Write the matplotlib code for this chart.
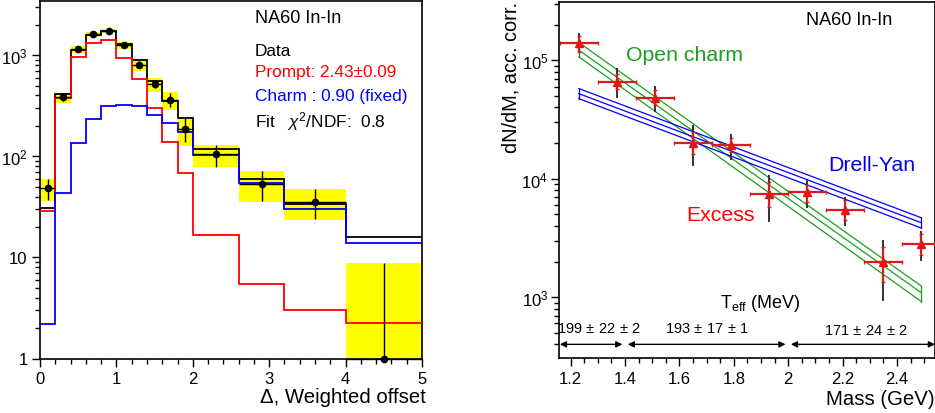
import numpy as np
import matplotlib
matplotlib.use("Agg")
import matplotlib.pyplot as plt
from matplotlib.ticker import FixedLocator, FixedFormatter, NullFormatter

plt.rcParams['font.family'] = ['Liberation Sans', 'DejaVu Sans']
plt.rcParams['mathtext.fontset'] = 'custom'
plt.rcParams['mathtext.rm'] = 'Liberation Sans'
plt.rcParams['mathtext.it'] = 'Liberation Sans:italic'

# ---------------- Left panel data ----------------
edges = [0, 0.2, 0.4, 0.6, 0.8, 1.0, 1.2, 1.4, 1.6, 1.8, 2.0, 2.6, 3.2, 4.0, 5.0]
data_y = [48.3, 387, 1155, 1613, 1727, 1265, 802, 524, 362, 188, 105, 53, 35, 1.0]
stat_lo = [37, 350, 1090, 1560, 1680, 1190, 740, 470, 310, 140, 79, 36, 24, 1.0]
stat_hi = [60, 420, 1200, 1680, 1790, 1330, 870, 575, 420, 245, 130, 71, 47, 8.8]
sys_lo = [36.5, 335, 1063, 1530, 1651, 1146, 700, 437, 286, 127, 78.5, 35.4, 23.5, 1.0]
sys_hi = [59.4, 420, 1237, 1701, 1836, 1355, 913, 601, 428, 247, 130, 71.3, 47.3, 8.8]
total_fit = [31, 418, 1121, 1578, 1741, 1304, 893, 557, 353, 242, 119, 59, 33.6, 16]
prompt = [28.5, 379, 963, 1334, 1419, 948, 579, 303, 140, 69, 16.7, 5.5, 3.05, 2.23]
charm = [2.2, 43, 136, 233, 315, 323, 315, 257, 216, 175, 103, 54, 30, 13.8]

left_yticks = [1, 10, 100, 1000]
left_yticklabels = ['1', '10', r'$10^{2}$', r'$10^{3}$']
left_xticks = [0, 1, 2, 3, 4, 5]
left_xticklabels = ['0', '1', '2', '3', '4', '5']

# ---------------- Right panel data ----------------
mass = [1.23, 1.37, 1.51, 1.65, 1.79, 1.93, 2.07, 2.21, 2.35, 2.49]
mass_halfwidth = [0.07] * 10
excess = [1.40e5, 6.56e4, 4.84e4, 2.02e4, 1.91e4, 7.47e3, 7.71e3, 5.40e3, 1.98e3, 2.83e3]
tot_lo = [1.14e5, 4.84e4, 3.66e4, 1.28e4, 1.43e4, 4.30e3, 5.65e3, 3.98e3, 937, 2040]
tot_hi = [1.70e5, 8.61e4, 6.02e4, 2.82e4, 2.40e4, 1.08e4, 9.80e3, 7.00e3, 3010, 3590]
st_lo = [1.176e5, 5.69e4, 4.17e4, 1.63e4, 1.68e4, 5760, 6350, 4445, 1339, 2250]
st_hi = [1.595e5, 7.72e4, 5.58e4, 2.48e4, 2.21e4, 9370, 8785, 6560, 2645, 3430]

band_x = [1.23, 2.49]
charm_mid = [1.215e5, 1089]
charm_up = [1.41e5, 1239]
charm_dn = [1.067e5, 918]
dy_mid = [5.223e4, 4246]
dy_up = [5.765e4, 4677]
dy_dn = [4.742e4, 3829]

arrow_start = [1.16, 1.41, 2.01]
arrow_end = [1.39, 1.99, 2.54]
arrow_y = 400
teff_labels = [r'199$\,\pm\,$22$\,\pm\,$2', r'193$\,\pm\,$17$\,\pm\,$1', r'171$\,\pm\,$24$\,\pm\,$2']
teff_label_x = [1.305, 1.70, 2.285]

right_yticks = [1e3, 1e4, 1e5]
right_yticklabels = [r'$10^{3}$', r'$10^{4}$', r'$10^{5}$']
right_xticks = [1.2, 1.4, 1.6, 1.8, 2.0, 2.2, 2.4]
right_xticklabels = ['1.2', '1.4', '1.6', '1.8', '2', '2.2', '2.4']

W, H = 935, 414
fig = plt.figure(figsize=(W / 100, H / 100), dpi=100)

def frac(x0, y0, x1, y1):
    return [x0 / W, 1 - y1 / H, (x1 - x0) / W, (y1 - y0) / H]

axL = fig.add_axes(frac(40, 2, 422, 359.5))
axR = fig.add_axes(frac(559.3, 3, 935, 359.3))

tick_fs = 12
for ax in (axL, axR):
    for s in ax.spines.values():
        s.set_linewidth(1.2)
    ax.tick_params(which='both', direction='out', top=False, right=False,
                   labelsize=tick_fs, width=1.0)
    ax.tick_params(which='major', length=6, pad=3)
    ax.tick_params(which='minor', length=3.5)
axR.tick_params(axis='y', which='major', pad=2)

# ---- Left panel ----
e = np.array(edges)
centers = 0.5 * (e[:-1] + e[1:])
widths = e[1:] - e[:-1]
axL.set_yscale('log')
axL.bar(centers, np.array(sys_hi) - np.array(sys_lo), bottom=sys_lo, width=widths,
        color='#ffff00', edgecolor='none', zorder=1)
axL.stairs(total_fit, edges, color='black', lw=1.3, baseline=None, zorder=3)
axL.stairs(prompt, edges, color='#ff0000', lw=1.3, baseline=None, zorder=3)
axL.stairs(charm, edges, color='#0000ff', lw=1.3, baseline=None, zorder=3)
yd = np.array(data_y)
axL.errorbar(centers, yd, yerr=[yd - np.array(stat_lo), np.array(stat_hi) - yd],
             xerr=widths / 2, fmt='o', color='black', ms=4.5, lw=1.0,
             capsize=0, zorder=4, clip_on=False)
axL.set_xlim(0, 5)
axL.set_ylim(1, 3440)
axL.yaxis.set_major_locator(FixedLocator(left_yticks))
axL.yaxis.set_major_formatter(FixedFormatter(left_yticklabels))
axL.yaxis.set_minor_locator(FixedLocator([m * 10 ** d for d in range(0, 4) for m in range(2, 10)]))
axL.yaxis.set_minor_formatter(NullFormatter())
axL.xaxis.set_major_locator(FixedLocator(left_xticks))
axL.xaxis.set_major_formatter(FixedFormatter(left_xticklabels))
axL.xaxis.set_minor_locator(FixedLocator(np.arange(0, 5.01, 0.2)))

fig.text(255 / W, 1 - 18.3 / H, 'NA60 In-In', fontsize=13, va='center', ha='left')
fig.text(255 / W, 1 - 51.7 / H, 'Data', fontsize=12.4, va='center', ha='left')
fig.text(255 / W, 1 - 72.7 / H, 'Prompt: 2.43±0.09', fontsize=12.4, va='center', ha='left', color='#ff0000')
fig.text(255 / W, 1 - 96 / H, 'Charm : 0.90 (fixed)', fontsize=12.4, va='center', ha='left', color='#0000ff')
fig.text(255 / W, 1 - 121.7 / H, r'Fit   $\chi^{2}$/NDF:  0.8', fontsize=12.4, va='center', ha='left')
fig.text(426 / W, 1 - 398 / H, 'Δ, Weighted offset', fontsize=14.7, va='center', ha='right')

# ---- Right panel ----
axR.set_yscale('log')
gcol = '#1a9f1a'
bcol = '#0000ff'
for up, mid, dn, col in ((charm_up, charm_mid, charm_dn, gcol), (dy_up, dy_mid, dy_dn, bcol)):
    axR.plot(band_x, up, color=col, lw=0.9, zorder=2)
    axR.plot(band_x, mid, color=col, lw=0.9, zorder=2)
    axR.plot(band_x, dn, color=col, lw=0.9, zorder=2)
    axR.plot([band_x[0], band_x[0]], [dn[0], up[0]], color=col, lw=0.9, zorder=2)
    axR.plot([band_x[1], band_x[1]], [dn[1], up[1]], color=col, lw=0.9, zorder=2)

ex = np.array(excess)
axR.errorbar(mass, ex, yerr=[ex - np.array(tot_lo), np.array(tot_hi) - ex], fmt='none',
             ecolor='#333333', lw=1.4, capsize=0, zorder=3)
axR.errorbar(mass, ex, yerr=[ex - np.array(st_lo), np.array(st_hi) - ex], xerr=mass_halfwidth,
             fmt='^', color='#ee1111', ecolor='#d81c1c', ms=6, lw=1.6, capsize=1.5,
             capthick=1.0, zorder=4, clip_on=False)

for a, b in zip(arrow_start, arrow_end):
    axR.annotate('', xy=(b, arrow_y), xytext=(a, arrow_y),
                 arrowprops=dict(arrowstyle='<|-|>', color='black', lw=1.0,
                                 mutation_scale=9, shrinkA=0, shrinkB=0),
                 annotation_clip=False)
axR.set_xlim(1.158, 2.54)
axR.set_ylim(305, 3.1e5)
axR.yaxis.set_major_locator(FixedLocator(right_yticks))
axR.yaxis.set_major_formatter(FixedFormatter(right_yticklabels))
axR.yaxis.set_minor_locator(FixedLocator([m * 10 ** d for d in range(2, 6) for m in range(2, 10)]))
axR.yaxis.set_minor_formatter(NullFormatter())
axR.xaxis.set_major_locator(FixedLocator(right_xticks))
axR.xaxis.set_major_formatter(FixedFormatter(right_xticklabels))
axR.xaxis.set_minor_locator(FixedLocator(np.arange(1.15, 2.56, 0.05)))

teff_y_px = [329.3, 329.3, 331]
for xl, lab, yy in zip(teff_label_x, teff_labels, teff_y_px):
    px = 559.3 + (xl - 1.158) / (2.54 - 1.158) * (935 - 559.3)
    fig.text(px / W, 1 - yy / H, lab, fontsize=10.5, ha='center', va='center')

fig.text(806 / W, 1 - 20.7 / H, 'NA60 In-In', fontsize=13, va='center', ha='left')
fig.text(626 / W, 1 - 56 / H, 'Open charm', fontsize=15.3, va='center', ha='left', color=gcol)
fig.text(828 / W, 1 - 165.7 / H, 'Drell-Yan', fontsize=15.3, va='center', ha='left', color=bcol)
fig.text(686.7 / W, 1 - 215.7 / H, 'Excess', fontsize=15.3, va='center', ha='left', color='#ff0000')
fig.text(720 / W, 1 - 303 / H, r'T$_{\mathrm{eff}}$ (MeV)', fontsize=13, va='center', ha='left')
fig.text(511 / W, 1 - 2 / H, 'dN/dM, acc. corr.', fontsize=14.4, rotation=90, va='top', ha='center')
fig.text(935 / W, 1 - 400 / H, 'Mass (GeV)', fontsize=14.7, va='center', ha='right')

fig.savefig('out.png', dpi=100)
